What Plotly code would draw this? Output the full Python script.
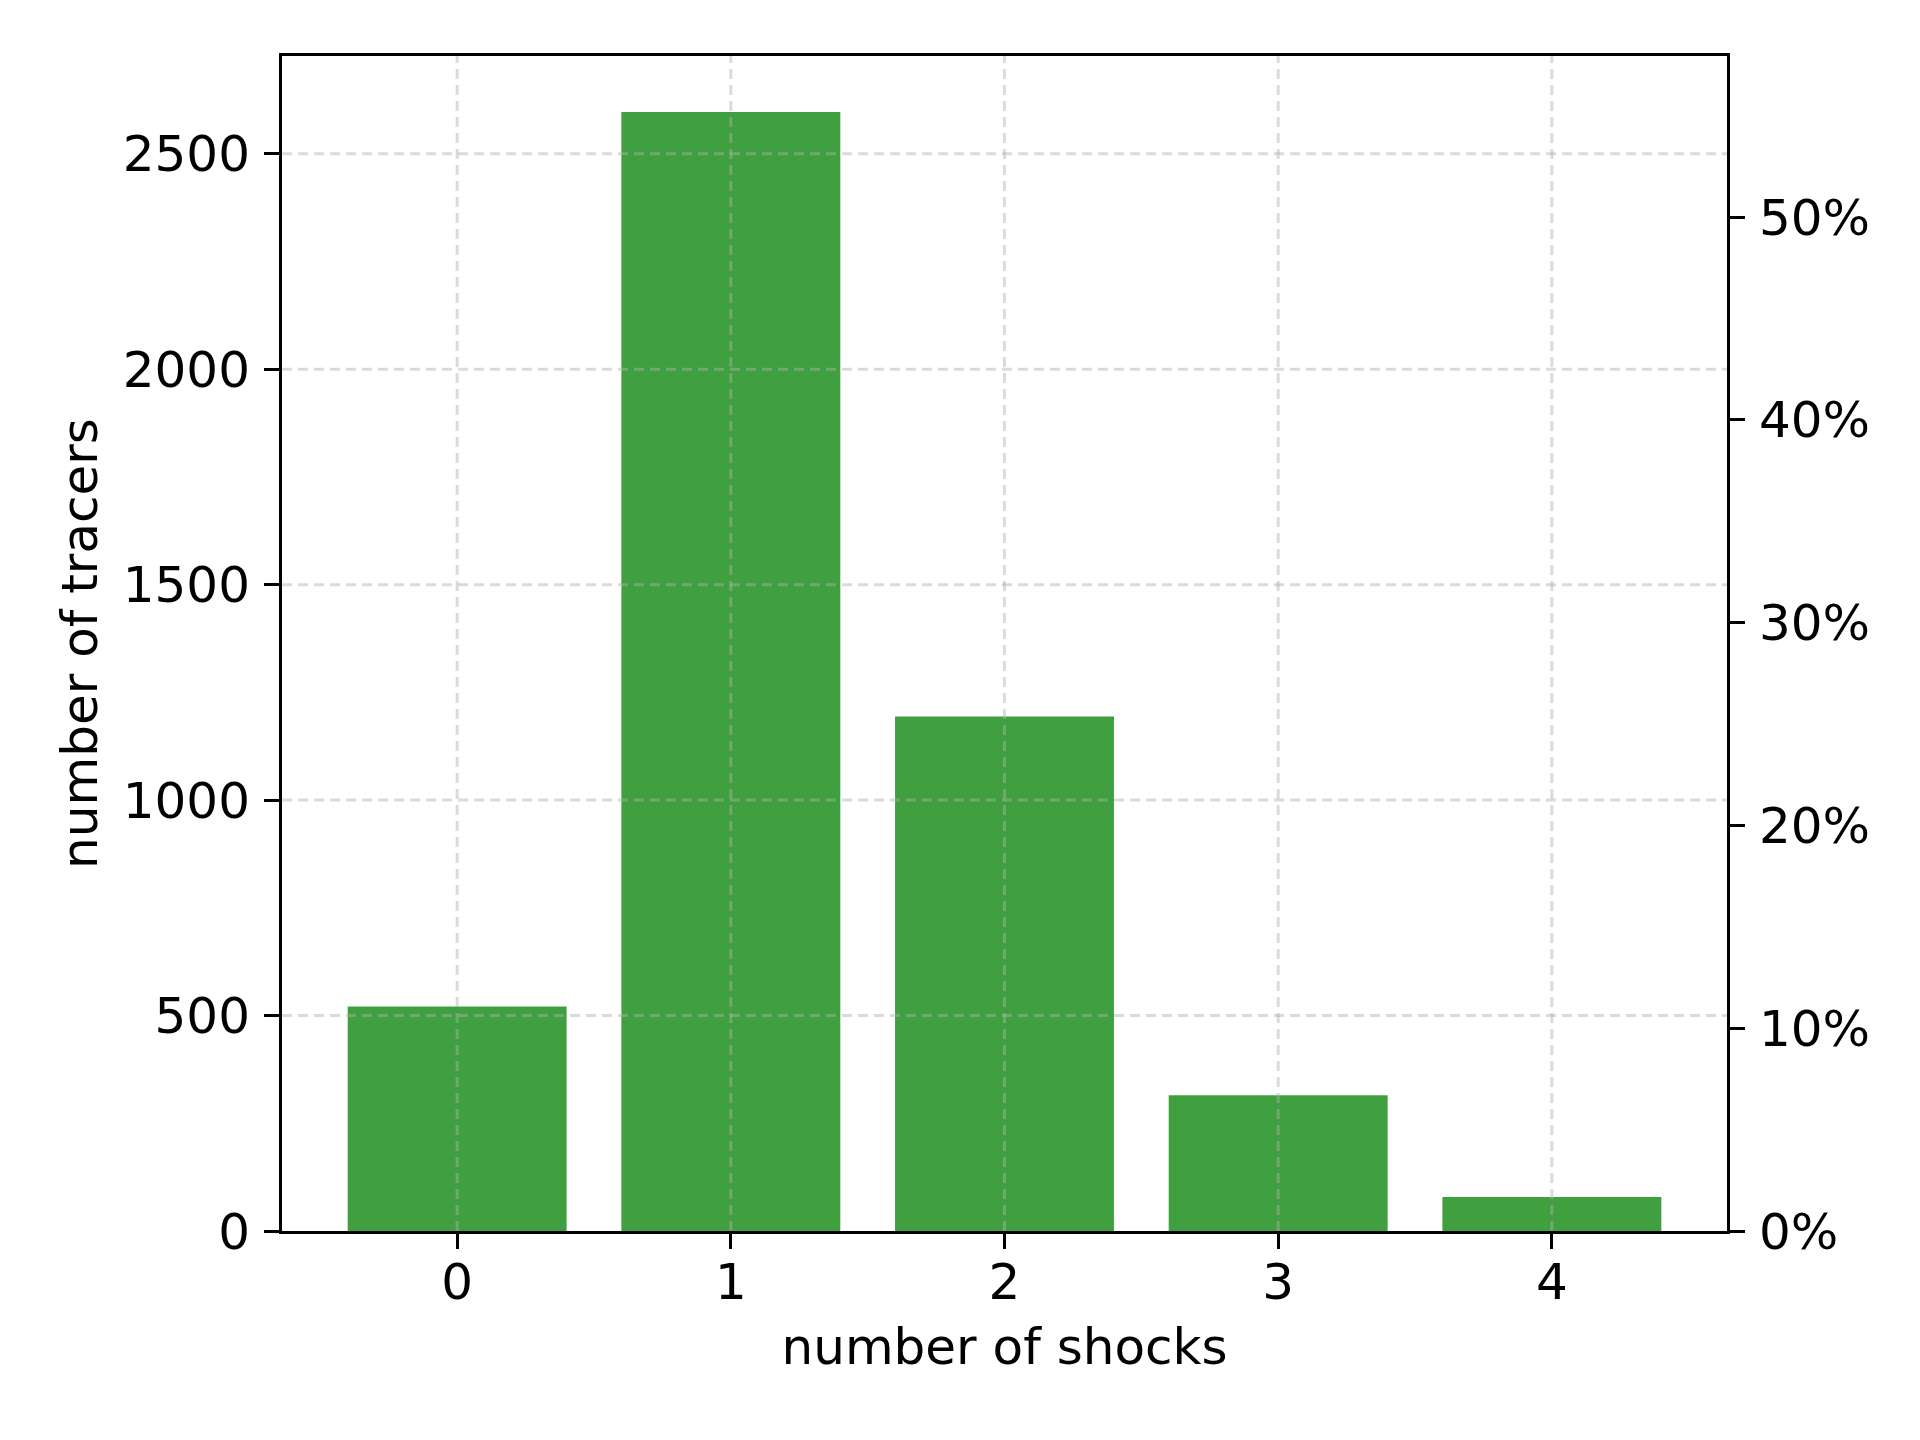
import plotly.graph_objects as go

# histogram of shock counts per tracer
shocks = [0, 1, 2, 3, 4]
tracers = [521, 2597, 1194, 315, 79]

count_ticks = [0, 500, 1000, 1500, 2000, 2500]
pct_ticks = [0, 0.1, 0.2, 0.3, 0.4, 0.5]

total = sum(tracers)
y_top = max(tracers) * 1.05
bar_w = 0.8
span = (len(shocks) - 1) + bar_w
x_lo = shocks[0] - bar_w / 2 - 0.05 * span
x_hi = shocks[-1] + bar_w / 2 + 0.05 * span

FONT = dict(family="DejaVu Sans", size=50, color="black")
GRID = "rgba(176,176,176,0.45)"

fig = go.Figure()
fig.add_trace(go.Bar(
    x=shocks, y=tracers, width=bar_w,
    marker=dict(color="rgb(64,160,64)", line=dict(width=0)),
    showlegend=False,
))
# invisible trace so the percentage axis gets drawn
fig.add_trace(go.Scatter(
    x=shocks, y=[t / total for t in tracers], yaxis="y2",
    mode="markers", marker=dict(opacity=0), hoverinfo="skip", showlegend=False,
))

# dashed grid drawn over the bars, like the original
shapes = []
for xv in shocks:
    shapes.append(dict(type="line", xref="x", yref="y domain", x0=xv, x1=xv, y0=0, y1=1,
                       line=dict(color=GRID, width=3, dash="10px,6px"), layer="above"))
for yv in count_ticks[1:]:
    shapes.append(dict(type="line", xref="x domain", yref="y", x0=0, x1=1, y0=yv, y1=yv,
                       line=dict(color=GRID, width=3, dash="10px,6px"), layer="above"))

axis_common = dict(
    showline=True, linecolor="black", linewidth=3,
    ticks="outside", ticklen=15, tickwidth=3, tickcolor="black",
    showgrid=False, zeroline=False, tickfont=FONT,
)

# page body has a small margin, so the figure is a bit smaller than the window
fig.update_layout(
    width=1904, height=1424,
    margin=dict(l=274, r=185, t=48, b=201),
    paper_bgcolor="white", plot_bgcolor="white",
    font=FONT,
    shapes=shapes,
    xaxis=dict(
        **axis_common, mirror=True, ticklabelstandoff=-10,
        range=[x_lo, x_hi], tickvals=shocks,
        title=dict(text="number of shocks", font=FONT, standoff=19),
    ),
    yaxis=dict(
        **axis_common, mirror=True, ticklabelstandoff=4,
        range=[0, y_top], tickvals=count_ticks,
        title=dict(text="number of tracers", font=FONT, standoff=10),
    ),
    yaxis2=dict(
        **axis_common, overlaying="y", side="right", ticklabelstandoff=4,
        range=[0, y_top / total], tickvals=pct_ticks, tickformat=".0%",
    ),
)

fig.write_html("out.html")
